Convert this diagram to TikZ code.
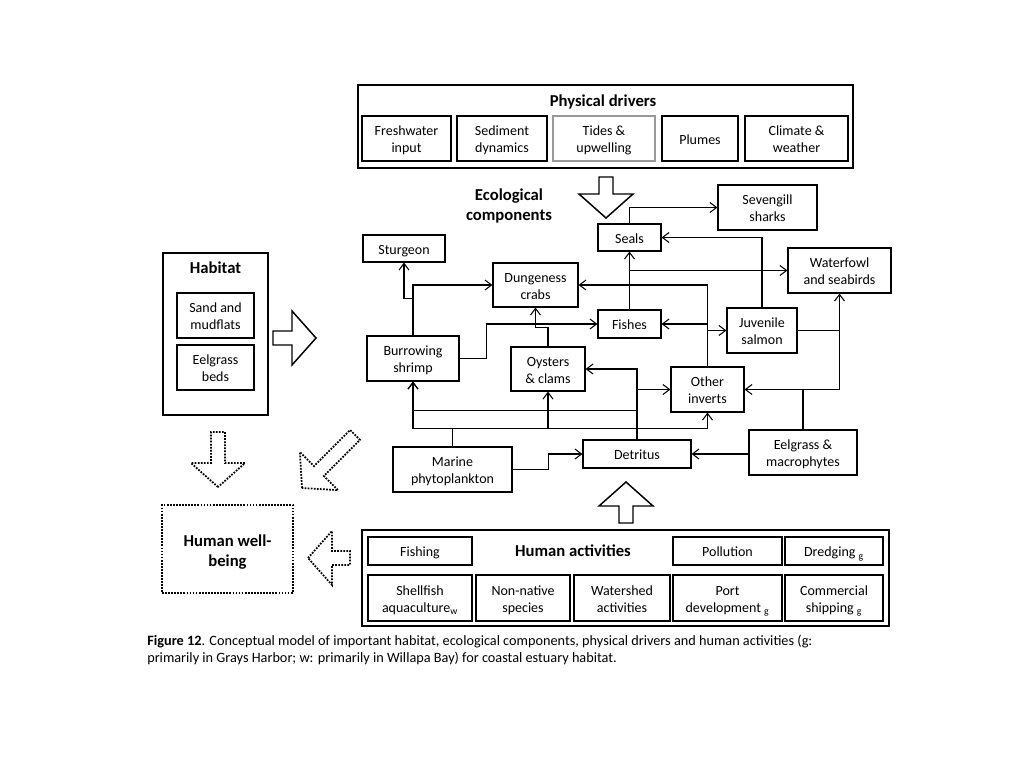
\documentclass[tikz,border=0pt]{standalone}
\usepackage{fontspec}
\setmainfont{Carlito}
\usepackage{tikz}
\usetikzlibrary{arrows.meta}
\tikzset{
    groupBox/.style={draw, line width=1.5pt, inner sep=0pt},
    ecoBox/.style={draw, line width=0.8pt, inner sep=1pt, font=\fontsize{10.5}{12.75}\selectfont},
    paleBox/.style={ecoBox, draw=black!40},
    dotBox/.style={draw, densely dotted, line width=1.3pt, inner sep=0pt},
    titleText/.style={align=center, inner sep=0pt, font=\fontsize{12.5}{15}\selectfont\bfseries},
    captionText/.style={align=left, inner sep=0pt, font=\fontsize{10.7}{12.75}\selectfont},
    ecoLink/.style={->, >={Straight Barb[length=5pt, width=7.5pt]}, line width=0.8pt},
    solidArrow/.style={line width=1.1pt, line join=miter},
    dotArrow/.style={densely dotted, line width=1.3pt},
}
\newcommand{\boxText}[1]{\raisebox{-1.9pt}[\height][\depth]{\begin{tabular}{@{}c@{}}#1\end{tabular}}}
\newcommand{\drawBlockArrow}[4][solidArrow]{
    \draw[#1, shift={(#2)}, rotate=#3] (0,0) -- (-24,27) -- (-24,7) -- (-#4,7) -- (-#4,-7) -- (-24,-7) -- (-24,-27) -- cycle;
}

\begin{document}
\begin{tikzpicture}[x=0.75pt, y=-0.75pt]
    \useasboundingbox (0,0) rectangle (1024,768);

    \node[groupBox, minimum width=371.25pt, minimum height=62.25pt] (physical) at (605.5,126.5) {};
    \node[titleText] (physicalTitle) at (603,102) {Physical drivers};
    \node[ecoBox, minimum width=66.75pt, minimum height=33.75pt] (freshwater) at (406.5,138.5) {\boxText{Freshwater\\input}};
    \node[ecoBox, minimum width=67.5pt, minimum height=33.75pt] (sediment) at (502,138.5) {\boxText{Sediment\\dynamics}};
    \node[paleBox, minimum width=76.5pt, minimum height=33.75pt] (tides) at (604,138.5) {\boxText{Tides \&\\upwelling}};
    \node[ecoBox, minimum width=57pt, minimum height=33.75pt] (plumes) at (700,138.5) {\boxText{Plumes}};
    \node[ecoBox, minimum width=77.25pt, minimum height=33.75pt] (climate) at (796.5,138.5) {\boxText{Climate \&\\weather}};

    \node[titleText] (ecoTitle) at (509,206) {Ecological\\components};
    \node[ecoBox, minimum width=61.5pt, minimum height=20.25pt] (sturgeon) at (404,248.5) {\boxText{Sturgeon}};
    \node[ecoBox, minimum width=63.75pt, minimum height=33pt] (crabs) at (535.5,285) {\boxText{Dungeness\\crabs}};
    \node[ecoBox, minimum width=47.25pt, minimum height=20.25pt] (seals) at (629.5,237.5) {\boxText{Seals}};
    \node[ecoBox, minimum width=74.25pt, minimum height=33.75pt] (sharks) at (767.5,207.5) {\boxText{Sevengill\\sharks}};
    \node[ecoBox, minimum width=77.25pt, minimum height=33.75pt] (waterfowl) at (839.5,270.5) {\boxText{Waterfowl\\and seabirds}};
    \node[ecoBox, minimum width=47.25pt, minimum height=21pt] (fishes) at (629.5,324) {\boxText{Fishes}};
    \node[ecoBox, minimum width=52.5pt, minimum height=33.75pt] (salmon) at (762,330.5) {\boxText{Juvenile\\salmon}};
    \node[ecoBox, minimum width=54.75pt, minimum height=33.75pt] (inverts) at (707.5,389.5) {\boxText{Other\\inverts}};
    \node[ecoBox, minimum width=69pt, minimum height=33.75pt] (shrimp) at (413,358.5) {\boxText{Burrowing\\shrimp}};
    \node[ecoBox, minimum width=55.5pt, minimum height=33pt] (oysters) at (548,369) {\boxText{Oysters\\\& clams}};
    \node[ecoBox, minimum width=81pt, minimum height=21pt] (detritus) at (637,454) {\boxText{Detritus}};
    \node[ecoBox, minimum width=81pt, minimum height=33.75pt] (eelgrass) at (803,452.5) {\boxText{Eelgrass \&\\macrophytes}};
    \node[ecoBox, minimum width=89.25pt, minimum height=33.75pt] (phyto) at (452.5,469.5) {\boxText{Marine\\phytoplankton}};

    \draw[ecoLink] (seals.north) |- (sharks.west);
    \draw[ecoLink] (salmon.north) |- (seals.east);
    \draw[ecoLink] (fishes.north) -- (seals.south);
    \draw[ecoLink] (fishes.north |- waterfowl.west) -- (waterfowl.west);
    \draw[ecoLink] (inverts.north) |- (crabs.east);
    \draw[ecoLink] (inverts.north |- fishes.east) -- (fishes.east);
    \draw[ecoLink] (inverts.north |- salmon.west) -- (salmon.west);
    \draw[ecoLink] (shrimp.north) |- (crabs.west);
    \draw[ecoLink] (shrimp.north) ++(0,-37) -| (sturgeon.south);
    \draw[ecoLink] (shrimp.east) -- ++(27,0) |- (fishes.west);
    \draw[ecoLink] (oysters.north) -- ++(0,-19) -| (crabs.south);
    \draw[ecoLink] (detritus.north) |- (oysters.east);
    \draw[ecoLink] (detritus.north |- inverts.west) -- (inverts.west);
    \draw[ecoLink] (detritus.north) ++(0,-29) -| (shrimp.south);
    \draw[line width=0.8pt] (phyto.north) -- ++(0,-18) coordinate (phytoJoin);
    \draw[ecoLink] (phytoJoin) -| (shrimp.south);
    \draw[ecoLink] (phytoJoin) -| (oysters.south);
    \draw[ecoLink] (phytoJoin) -| (inverts.south);
    \draw[ecoLink] (phyto.east) -- ++(36,0) |- (detritus.west);
    \draw[ecoLink] (eelgrass.west |- detritus.east) -- (detritus.east);
    \draw[ecoLink] (eelgrass.north) |- (inverts.east);
    \draw[ecoLink] (eelgrass.north |- inverts.east) -| (waterfowl.south);
    \draw[line width=0.8pt] (salmon.east) -- (salmon.east -| waterfowl.south);

    \node[groupBox, minimum width=78.75pt, minimum height=121.5pt] (habitat) at (215.5,334) {};
    \node[titleText] (habitatTitle) at (215.5,268) {Habitat};
    \node[ecoBox, minimum width=57.75pt, minimum height=33.75pt] (mudflats) at (215.5,315.5) {\boxText{Sand and\\mudflats}};
    \node[ecoBox, minimum width=57.75pt, minimum height=33.75pt] (eelgrassBeds) at (215.5,367.5) {\boxText{Eelgrass\\beds}};

    \node[dotBox, minimum width=98.25pt, minimum height=66pt] (wellbeing) at (227.5,549) {};
    \node[titleText] (wellbeingTitle) at (227.5,552) {Human well-\\being};

    \node[groupBox, minimum width=395.25pt, minimum height=72pt] (human) at (625.5,578) {};
    \node[titleText] (humanTitle) at (573,551) {Human activities};
    \node[ecoBox, minimum width=78pt, minimum height=21pt] (fishing) at (420,551) {\boxText{Fishing}};
    \node[ecoBox, minimum width=81.75pt, minimum height=21pt] (pollution) at (727.5,551) {\boxText{Pollution}};
    \node[ecoBox, minimum width=73.5pt, minimum height=21pt] (dredging) at (834,551) {\boxText{Dredging~\textsubscript{g}}};
    \node[ecoBox, minimum width=78pt, minimum height=34.5pt] (shellfish) at (420,598) {\boxText{Shellfish\\aquaculture\textsubscript{w}}};
    \node[ecoBox, minimum width=70.5pt, minimum height=34.5pt] (nonnative) at (523,598) {\boxText{Non-native\\species}};
    \node[ecoBox, minimum width=72pt, minimum height=34.5pt] (watershed) at (622,598) {\boxText{Watershed\\activities}};
    \node[ecoBox, minimum width=81.75pt, minimum height=34.5pt] (port) at (727.5,598) {\boxText{Port\\development~\textsubscript{g}}};
    \node[ecoBox, minimum width=73.5pt, minimum height=34.5pt] (shipping) at (834,598) {\boxText{Commercial\\shipping~\textsubscript{g}}};

    \drawBlockArrow{606,218}{-90}{41}
    \drawBlockArrow{316,338}{0}{43}
    \drawBlockArrow{626,482}{90}{41}
    \drawBlockArrow[dotArrow]{218,487}{-90}{55}
    \drawBlockArrow[dotArrow]{308,558}{180}{42}
    \drawBlockArrow[dotArrow]{302,488}{225}{75}

    \node[captionText, anchor=west] (caption) at (147,649.5) {\textbf{Figure 12}. Conceptual model of important habitat, ecological components, physical drivers and human activities (g:\\primarily in Grays Harbor; w: primarily in Willapa Bay) for coastal estuary habitat.};
\end{tikzpicture}
\end{document}
